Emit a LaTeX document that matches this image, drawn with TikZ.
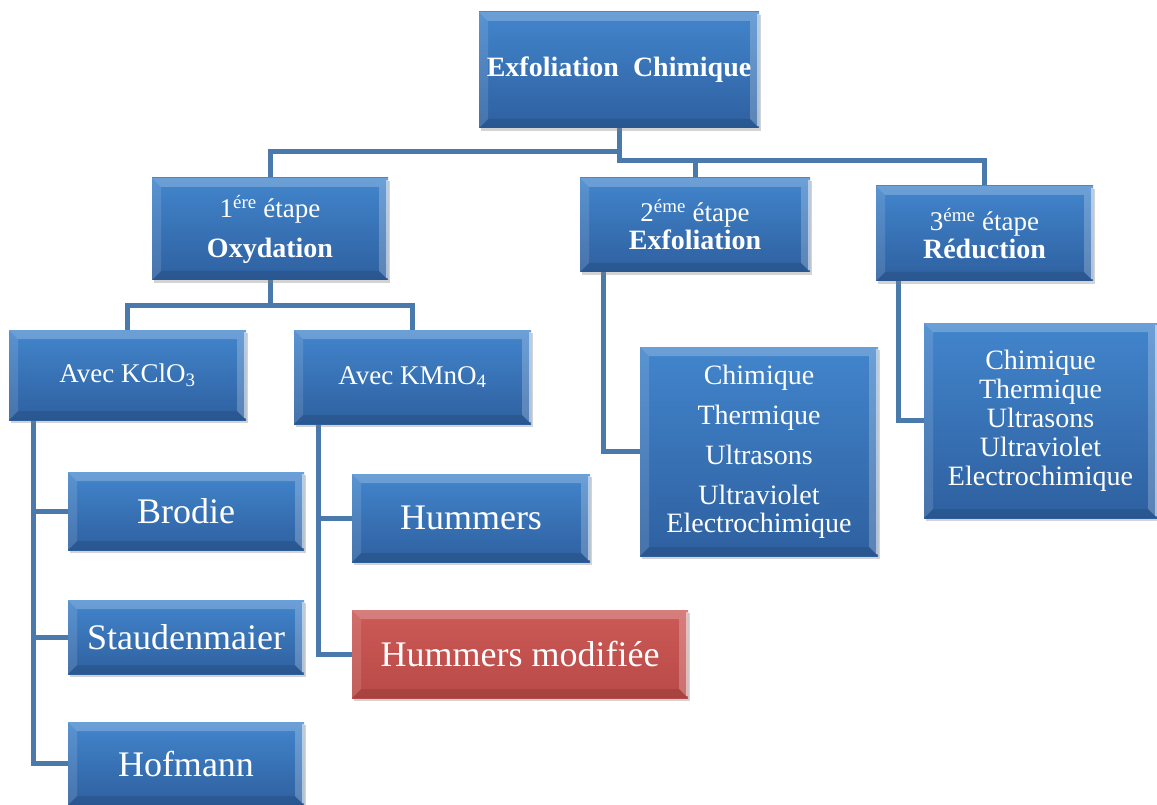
\documentclass[tikz,border=0pt]{standalone}
\usepackage{fontspec}
\setmainfont{Liberation Serif}
\usetikzlibrary{shadows,backgrounds,calc}
\definecolor{conn}{RGB}{74,122,172}
\definecolor{btop}{RGB}{66,133,204}
\definecolor{bbot}{RGB}{46,96,160}
\definecolor{rtop}{RGB}{203,90,87}
\definecolor{rbot}{RGB}{186,74,71}
\newcommand\fsz[2]{\fontsize{#1}{#2}\selectfont}
\newcommand\bevelbox{%
  \path (path picture bounding box.north west) coordinate (bvA)
        (path picture bounding box.north east) coordinate (bvB)
        (path picture bounding box.south east) coordinate (bvC)
        (path picture bounding box.south west) coordinate (bvD);
  \fill[white,opacity=0.22] (bvA) -- (bvB) -- ($(bvB)+(-9pt,-9pt)$) -- ($(bvA)+(9pt,-9pt)$) -- cycle;
  \fill[white,opacity=0.12] (bvA) -- (bvD) -- ($(bvD)+(9pt,9pt)$) -- ($(bvA)+(9pt,-9pt)$) -- cycle;
  \fill[white,opacity=0.22] (bvB) -- (bvC) -- ($(bvC)+(-9pt,9pt)$) -- ($(bvB)+(-9pt,-9pt)$) -- cycle;
  \fill[black,opacity=0.10] (bvD) -- (bvC) -- ($(bvC)+(-9pt,9pt)$) -- ($(bvD)+(9pt,9pt)$) -- cycle;
  \draw[white,opacity=0.5,line width=1.2pt] ($(bvB)+(-1pt,-2pt)$) -- ($(bvC)+(-1pt,2pt)$);
}
\tikzset{
  box/.style={rectangle, inner sep=2pt, top color=btop, bottom color=bbot,
    text=white, align=center,
    drop shadow={opacity=0.35, shadow xshift=2pt, shadow yshift=-3pt},
    path picture={\bevelbox}},
  redbox/.style={box, top color=rtop, bottom color=rbot},
  conline/.style={draw=conn, line width=5pt},
}
\begin{document}
\begin{tikzpicture}[x=1pt,y=-1pt]
\useasboundingbox (0,0) rectangle (1157,805);

\node[box, minimum width=280pt, minimum height=116pt, font=\fsz{28}{30}\bfseries] (top) at (619,70) {Exfoliation~~Chimique};

\node[box, minimum width=236pt, minimum height=102pt, font=\fsz{27}{28}] (oxy) at (270,229)
  {1\textsuperscript{ére} étape\\[12pt]\bfseries\fsz{28}{28}Oxydation};
\node[box, minimum width=230pt, minimum height=94pt, font=\fsz{27}{28}] (exf) at (695,225)
  {2\textsuperscript{éme} étape\\\bfseries\fsz{28}{28}Exfoliation};
\node[box, minimum width=217pt, minimum height=95pt, font=\fsz{27}{28}] (red) at (984.5,233.5)
  {3\textsuperscript{éme} étape\\\bfseries\fsz{28}{28}Réduction};

\node[box, minimum width=237pt, minimum height=90pt, font=\fsz{27}{28}] (kclo) at (127.5,375) {Avec KClO\textsubscript{3}};
\node[box, minimum width=237pt, minimum height=94pt, font=\fsz{27}{28}] (kmno) at (412.5,377) {Avec KMnO\textsubscript{4}};

\node[box, minimum width=238pt, minimum height=209pt, font=\fsz{28}{28}] (chim2) at (759,451.5)
  {Chimique\\[12pt]Thermique\\[12pt]Ultrasons\\[12pt]Ultraviolet\\Electrochimique};
\node[box, minimum width=233pt, minimum height=195pt, font=\fsz{28}{29}] (chim3) at (1040.5,420.5)
  {Chimique\\Thermique\\Ultrasons\\Ultraviolet\\Electrochimique};

\node[box, minimum width=236pt, minimum height=78pt, font=\fsz{36}{38}] (brodie) at (186,511) {Brodie};
\node[box, minimum width=236pt, minimum height=74pt, font=\fsz{36}{38}] (stau) at (186,637) {Staudenmaier};
\node[box, minimum width=236pt, minimum height=83pt, font=\fsz{36}{38}] (hof) at (186,763.5) {Hofmann};
\node[box, minimum width=238pt, minimum height=88pt, font=\fsz{36}{38}] (hum) at (471,518) {Hummers};
\node[redbox, minimum width=336pt, minimum height=88pt, font=\fsz{36}{38}] (hmod) at (520,654) {Hummers modifiée};

\begin{scope}[on background layer]
  \draw[conline] (top.south) -- ++(0,23) -| (oxy.north);
  \draw[conline] (top.south) -- ++(0,32) -| (exf.north);
  \draw[conline] (top.south) -- ++(0,32) -| (red.north);
  \draw[conline] (oxy.south) -- ++(0,25) -| (kclo.north);
  \draw[conline] (oxy.south) -- ++(0,25) -| (kmno.north);
  \draw[conline] ([xshift=25pt]kclo.south west) |- (brodie.west);
  \draw[conline] ([xshift=25pt]kclo.south west) |- (stau.west);
  \draw[conline] ([xshift=25pt]kclo.south west) |- (hof.west);
  \draw[conline] ([xshift=25pt]kmno.south west) |- (hum.west);
  \draw[conline] ([xshift=25pt]kmno.south west) |- (hmod.west);
  \draw[conline] ([xshift=24pt]exf.south west) |- (chim2.west);
  \draw[conline] ([xshift=23pt]red.south west) |- (chim3.west);
\end{scope}
\end{tikzpicture}
\end{document}
